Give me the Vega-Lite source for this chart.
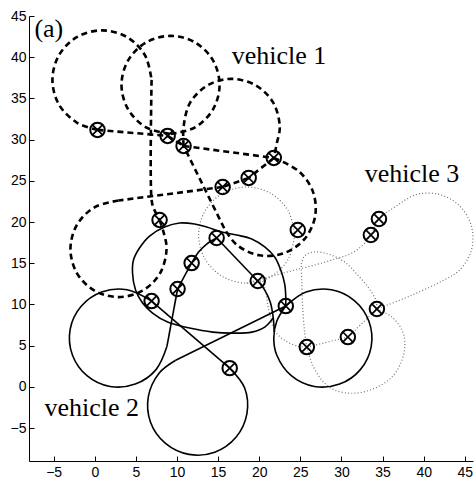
{
  "$schema": "https://vega.github.io/schema/vega-lite/v6.json",
  "width": 444,
  "height": 445,
  "autosize": {"type": "none"},
  "padding": {"left": 29, "top": 16, "right": 2, "bottom": 22},
  "background": "white",
  "config": {
    "view": {"stroke": null},
    "axis": {"grid": false, "domainColor": "black", "tickColor": "black", "labelColor": "black", "labelFont": "Liberation Sans", "labelFontSize": 14, "tickSize": -5, "domainWidth": 1, "tickWidth": 1, "title": null, "labelFlush": false, "labelOverlap": false}
  },
  "datasets": {
    "paths": [
      {"v":1,"s":"1a","i":0,"x":0.33,"y":31.18},{"v":1,"s":"1a","i":1,"x":-2.14,"y":32.04},{"v":1,"s":"1a","i":2,"x":-4.35,"y":34.24},{"v":1,"s":"1a","i":3,"x":-5.15,"y":37.25},{"v":1,"s":"1a","i":4,"x":-4.35,"y":40.25},{"v":1,"s":"1a","i":5,"x":-2.14,"y":42.46},{"v":1,"s":"1a","i":6,"x":0.88,"y":43.26},{"v":1,"s":"1a","i":7,"x":3.89,"y":42.46},{"v":1,"s":"1a","i":8,"x":6.10,"y":40.25},{"v":1,"s":"1a","i":9,"x":6.91,"y":37.25},
      {"v":1,"s":"1b","i":0,"x":6.91,"y":37.25},{"v":1,"s":"1b","i":1,"x":6.91,"y":22.67},{"v":1,"s":"1b","i":2,"x":7.15,"y":21.70},{"v":1,"s":"1b","i":3,"x":7.88,"y":20.25},
      {"v":1,"s":"1c","i":0,"x":0.33,"y":31.18},{"v":1,"s":"1c","i":1,"x":8.86,"y":30.45},
      {"v":1,"s":"1d","i":0,"x":8.86,"y":30.45},{"v":1,"s":"1d","i":1,"x":10.80,"y":29.23},
      {"v":1,"s":"1e","i":0,"x":9.22,"y":30.69},{"v":1,"s":"1e","i":1,"x":12.20,"y":31.49},{"v":1,"s":"1e","i":2,"x":14.38,"y":33.67},{"v":1,"s":"1e","i":3,"x":15.18,"y":36.64},{"v":1,"s":"1e","i":4,"x":14.38,"y":39.62},{"v":1,"s":"1e","i":5,"x":12.20,"y":41.79},{"v":1,"s":"1e","i":6,"x":9.22,"y":42.59},{"v":1,"s":"1e","i":7,"x":6.24,"y":41.79},{"v":1,"s":"1e","i":8,"x":4.06,"y":39.62},{"v":1,"s":"1e","i":9,"x":3.25,"y":36.64},{"v":1,"s":"1e","i":10,"x":4.06,"y":33.67},{"v":1,"s":"1e","i":11,"x":6.24,"y":31.49},{"v":1,"s":"1e","i":12,"x":9.22,"y":30.69},
      {"v":1,"s":"1f","i":0,"x":10.80,"y":29.23},{"v":1,"s":"1f","i":1,"x":10.80,"y":31.54},{"v":1,"s":"1f","i":2,"x":11.58,"y":34.45},{"v":1,"s":"1f","i":3,"x":13.73,"y":36.59},{"v":1,"s":"1f","i":4,"x":16.60,"y":37.37},{"v":1,"s":"1f","i":5,"x":19.57,"y":36.59},{"v":1,"s":"1f","i":6,"x":21.72,"y":34.45},{"v":1,"s":"1f","i":7,"x":22.50,"y":31.54},{"v":1,"s":"1f","i":8,"x":22.14,"y":29.55},{"v":1,"s":"1f","i":9,"x":21.77,"y":27.78},
      {"v":1,"s":"1g","i":0,"x":10.80,"y":29.23},{"v":1,"s":"1g","i":1,"x":21.77,"y":27.78},
      {"v":1,"s":"1h","i":0,"x":21.77,"y":27.78},{"v":1,"s":"1h","i":1,"x":18.72,"y":25.35},
      {"v":1,"s":"1i","i":0,"x":18.72,"y":25.35},{"v":1,"s":"1i","i":1,"x":15.55,"y":24.25},
      {"v":1,"s":"1j","i":0,"x":15.55,"y":24.25},{"v":1,"s":"1j","i":1,"x":2.89,"y":22.61},
      {"v":1,"s":"1k","i":0,"x":2.89,"y":22.61},{"v":1,"s":"1k","i":1,"x":-0.04,"y":21.78},{"v":1,"s":"1k","i":2,"x":-2.18,"y":19.64},{"v":1,"s":"1k","i":3,"x":-2.96,"y":16.72},{"v":1,"s":"1k","i":4,"x":-2.18,"y":13.81},{"v":1,"s":"1k","i":5,"x":-0.04,"y":11.67},{"v":1,"s":"1k","i":6,"x":2.89,"y":10.89},{"v":1,"s":"1k","i":7,"x":5.81,"y":11.67},{"v":1,"s":"1k","i":8,"x":7.95,"y":13.81},{"v":1,"s":"1k","i":9,"x":8.73,"y":16.72},{"v":1,"s":"1k","i":10,"x":8.38,"y":18.72},{"v":1,"s":"1k","i":11,"x":7.88,"y":20.25},
      {"v":1,"s":"1l","i":0,"x":21.77,"y":27.78},{"v":1,"s":"1l","i":1,"x":24.80,"y":26.17},{"v":1,"s":"1l","i":2,"x":26.53,"y":23.69},{"v":1,"s":"1l","i":3,"x":26.80,"y":20.69},{"v":1,"s":"1l","i":4,"x":25.52,"y":17.95},{"v":1,"s":"1l","i":5,"x":23.03,"y":16.23},{"v":1,"s":"1l","i":6,"x":20.02,"y":15.96},{"v":1,"s":"1l","i":7,"x":17.27,"y":17.23},{"v":1,"s":"1l","i":8,"x":15.74,"y":19.24},
      {"v":1,"s":"1m","i":0,"x":15.74,"y":19.24},{"v":1,"s":"1m","i":1,"x":10.80,"y":29.23},

      {"v":2,"s":"2a","i":0,"x":10.07,"y":11.87},{"v":2,"s":"2a","i":1,"x":11.78,"y":15.02},{"v":2,"s":"2a","i":2,"x":12.63,"y":16.36},{"v":2,"s":"2a","i":3,"x":13.61,"y":17.33},{"v":2,"s":"2a","i":4,"x":14.82,"y":18.06},
      {"v":2,"s":"2c","i":0,"x":10.07,"y":11.87},{"v":2,"s":"2c","i":1,"x":8.77,"y":4.88},
      {"v":2,"s":"2d","i":0,"x":8.77,"y":4.88},{"v":2,"s":"2d","i":1,"x":7.45,"y":2.09},{"v":2,"s":"2d","i":2,"x":4.93,"y":0.33},{"v":2,"s":"2d","i":3,"x":1.85,"y":0.05},{"v":2,"s":"2d","i":4,"x":-0.95,"y":1.36},{"v":2,"s":"2d","i":5,"x":-2.72,"y":3.87},{"v":2,"s":"2d","i":6,"x":-3.00,"y":6.95},{"v":2,"s":"2d","i":7,"x":-1.68,"y":9.74},{"v":2,"s":"2d","i":8,"x":0.84,"y":11.50},{"v":2,"s":"2d","i":9,"x":3.92,"y":11.78},{"v":2,"s":"2d","i":10,"x":6.91,"y":10.41},
      {"v":2,"s":"2e","i":0,"x":6.91,"y":10.41},{"v":2,"s":"2e","i":1,"x":16.41,"y":2.27},
      {"v":2,"s":"2f","i":0,"x":16.41,"y":2.27},{"v":2,"s":"2f","i":1,"x":18.23,"y":-0.15},{"v":2,"s":"2f","i":2,"x":18.50,"y":-3.28},{"v":2,"s":"2f","i":3,"x":17.17,"y":-6.12},{"v":2,"s":"2f","i":4,"x":14.59,"y":-7.93},{"v":2,"s":"2f","i":5,"x":11.45,"y":-8.20},{"v":2,"s":"2f","i":6,"x":8.60,"y":-6.87},{"v":2,"s":"2f","i":7,"x":6.78,"y":-4.30},{"v":2,"s":"2f","i":8,"x":6.52,"y":-1.17},{"v":2,"s":"2f","i":9,"x":7.84,"y":1.68},{"v":2,"s":"2f","i":10,"x":9.84,"y":3.23},
      {"v":2,"s":"2g","i":0,"x":9.84,"y":3.23},{"v":2,"s":"2g","i":1,"x":23.23,"y":9.80},
      {"v":2,"s":"2h","i":0,"x":23.23,"y":9.80},{"v":2,"s":"2h","i":1,"x":25.69,"y":11.50},{"v":2,"s":"2h","i":2,"x":28.77,"y":11.78},{"v":2,"s":"2h","i":3,"x":31.57,"y":10.47},{"v":2,"s":"2h","i":4,"x":33.34,"y":7.95},{"v":2,"s":"2h","i":5,"x":33.62,"y":4.88},{"v":2,"s":"2h","i":6,"x":32.30,"y":2.09},{"v":2,"s":"2h","i":7,"x":29.78,"y":0.33},{"v":2,"s":"2h","i":8,"x":26.70,"y":0.05},{"v":2,"s":"2h","i":9,"x":23.90,"y":1.36},{"v":2,"s":"2h","i":10,"x":22.13,"y":3.87},{"v":2,"s":"2h","i":11,"x":21.77,"y":5.91},{"v":2,"s":"2h","i":12,"x":22.13,"y":7.95},{"v":2,"s":"2h","i":13,"x":23.23,"y":9.80},
      {"v":2,"s":"2i","i":0,"x":21.83,"y":6.65},{"v":2,"s":"2i","i":1,"x":21.71,"y":8.34},{"v":2,"s":"2i","i":2,"x":21.34,"y":10.29},{"v":2,"s":"2i","i":3,"x":20.67,"y":11.74},{"v":2,"s":"2i","i":4,"x":19.82,"y":12.84},
      {"v":2,"s":"2j","i":0,"x":19.82,"y":12.84},{"v":2,"s":"2j","i":1,"x":14.82,"y":18.06},
      {"v":2,"s":"2k","i":0,"x":21.71,"y":8.34},{"v":2,"s":"2k","i":1,"x":20.67,"y":7.25},{"v":2,"s":"2k","i":2,"x":19.09,"y":6.64},{"v":2,"s":"2k","i":3,"x":16.77,"y":6.52},{"v":2,"s":"2k","i":4,"x":14.34,"y":6.64},{"v":2,"s":"2k","i":5,"x":11.53,"y":7.13},{"v":2,"s":"2k","i":6,"x":8.86,"y":7.86},{"v":2,"s":"2k","i":7,"x":7.03,"y":8.95},{"v":2,"s":"2k","i":8,"x":5.81,"y":10.17},{"v":2,"s":"2k","i":9,"x":4.96,"y":11.74},{"v":2,"s":"2k","i":10,"x":4.59,"y":13.81},{"v":2,"s":"2k","i":11,"x":4.71,"y":15.39},{"v":2,"s":"2k","i":12,"x":5.44,"y":16.84},{"v":2,"s":"2k","i":13,"x":6.66,"y":18.30},{"v":2,"s":"2k","i":14,"x":8.49,"y":19.39},{"v":2,"s":"2k","i":15,"x":10.32,"y":19.88},{"v":2,"s":"2k","i":16,"x":12.14,"y":19.76},{"v":2,"s":"2k","i":17,"x":13.61,"y":19.39},{"v":2,"s":"2k","i":18,"x":15.43,"y":18.79},{"v":2,"s":"2k","i":19,"x":17.26,"y":18.42},{"v":2,"s":"2k","i":20,"x":19.09,"y":17.94},{"v":2,"s":"2k","i":21,"x":20.67,"y":16.97},{"v":2,"s":"2k","i":22,"x":21.88,"y":15.75},{"v":2,"s":"2k","i":23,"x":22.62,"y":14.17},{"v":2,"s":"2k","i":24,"x":23.10,"y":12.47},{"v":2,"s":"2k","i":25,"x":23.23,"y":10.89},{"v":2,"s":"2k","i":26,"x":23.23,"y":9.80},

      {"v":3,"s":"3a","i":0,"x":24.32,"y":18.42},{"v":3,"s":"3a","i":1,"x":23.54,"y":15.51},{"v":3,"s":"3a","i":2,"x":21.40,"y":13.37},{"v":3,"s":"3a","i":3,"x":18.48,"y":12.59},{"v":3,"s":"3a","i":4,"x":15.56,"y":13.37},{"v":3,"s":"3a","i":5,"x":13.41,"y":15.51},{"v":3,"s":"3a","i":6,"x":12.63,"y":18.42},{"v":3,"s":"3a","i":7,"x":13.41,"y":21.34},{"v":3,"s":"3a","i":8,"x":15.56,"y":23.48},{"v":3,"s":"3a","i":9,"x":18.48,"y":24.25},{"v":3,"s":"3a","i":10,"x":21.40,"y":23.48},{"v":3,"s":"3a","i":11,"x":23.54,"y":21.34},{"v":3,"s":"3a","i":12,"x":24.32,"y":18.42},
      {"v":3,"s":"3b","i":0,"x":18.48,"y":12.59},{"v":3,"s":"3b","i":1,"x":20.67,"y":13.20},{"v":3,"s":"3b","i":2,"x":22.50,"y":13.69},{"v":3,"s":"3b","i":3,"x":24.32,"y":14.17},{"v":3,"s":"3b","i":4,"x":26.76,"y":14.78},{"v":3,"s":"3b","i":5,"x":29.20,"y":15.51},{"v":3,"s":"3b","i":6,"x":31.03,"y":16.12},{"v":3,"s":"3b","i":7,"x":32.49,"y":17.09},{"v":3,"s":"3b","i":8,"x":33.58,"y":18.42},{"v":3,"s":"3b","i":9,"x":34.56,"y":20.37},{"v":3,"s":"3b","i":10,"x":36.65,"y":21.92},{"v":3,"s":"3b","i":11,"x":39.11,"y":23.34},{"v":3,"s":"3b","i":12,"x":41.94,"y":23.34},{"v":3,"s":"3b","i":13,"x":44.40,"y":21.92},{"v":3,"s":"3b","i":14,"x":45.82,"y":19.47},{"v":3,"s":"3b","i":15,"x":45.82,"y":16.65},{"v":3,"s":"3b","i":16,"x":44.40,"y":14.20},{"v":3,"s":"3b","i":17,"x":42.48,"y":12.96},{"v":3,"s":"3b","i":18,"x":38.33,"y":11.02},{"v":3,"s":"3b","i":19,"x":34.31,"y":9.44},
      {"v":3,"s":"3c","i":0,"x":34.31,"y":9.44},{"v":3,"s":"3c","i":1,"x":36.14,"y":8.47},{"v":3,"s":"3c","i":2,"x":37.36,"y":6.89},{"v":3,"s":"3c","i":3,"x":37.72,"y":5.31},{"v":3,"s":"3c","i":4,"x":37.36,"y":3.24},{"v":3,"s":"3c","i":5,"x":36.14,"y":1.18},{"v":3,"s":"3c","i":6,"x":34.07,"y":-0.16},{"v":3,"s":"3c","i":7,"x":31.63,"y":-0.77},{"v":3,"s":"3c","i":8,"x":29.20,"y":-0.40},{"v":3,"s":"3c","i":9,"x":27.61,"y":0.81},{"v":3,"s":"3c","i":10,"x":26.40,"y":2.88},{"v":3,"s":"3c","i":11,"x":25.79,"y":4.82},
      {"v":3,"s":"3d","i":0,"x":25.79,"y":4.82},{"v":3,"s":"3d","i":1,"x":30.78,"y":6.04},
      {"v":3,"s":"3e","i":0,"x":30.78,"y":6.04},{"v":3,"s":"3e","i":1,"x":34.31,"y":9.44},
      {"v":3,"s":"3f","i":0,"x":25.79,"y":4.82},{"v":3,"s":"3f","i":1,"x":25.53,"y":6.52},{"v":3,"s":"3f","i":2,"x":25.29,"y":9.68},{"v":3,"s":"3f","i":3,"x":25.18,"y":12.96},{"v":3,"s":"3f","i":4,"x":25.18,"y":15.15},{"v":3,"s":"3f","i":5,"x":25.66,"y":16.00},{"v":3,"s":"3f","i":6,"x":26.64,"y":16.36},{"v":3,"s":"3f","i":7,"x":27.98,"y":16.24},{"v":3,"s":"3f","i":8,"x":29.32,"y":15.75},{"v":3,"s":"3f","i":9,"x":30.54,"y":15.03},{"v":3,"s":"3f","i":10,"x":31.76,"y":13.81},{"v":3,"s":"3f","i":11,"x":33.22,"y":12.11},{"v":3,"s":"3f","i":12,"x":34.19,"y":10.53},{"v":3,"s":"3f","i":13,"x":34.31,"y":9.44},
      {"v":3,"s":"3g","i":0,"x":20.43,"y":12.84},{"v":3,"s":"3g","i":1,"x":20.80,"y":11.50},{"v":3,"s":"3g","i":2,"x":21.04,"y":9.92},{"v":3,"s":"3g","i":3,"x":21.41,"y":8.34},{"v":3,"s":"3g","i":4,"x":22.01,"y":6.64},{"v":3,"s":"3g","i":5,"x":23.23,"y":5.55},{"v":3,"s":"3g","i":6,"x":24.69,"y":4.94},{"v":3,"s":"3g","i":7,"x":25.79,"y":4.82}
    ],
    "targets": [
      {"x":0.33,"y":31.18},{"x":8.86,"y":30.45},{"x":10.80,"y":29.23},{"x":15.55,"y":24.25},{"x":7.88,"y":20.25},{"x":21.77,"y":27.78},{"x":18.72,"y":25.35},
      {"x":6.91,"y":10.41},{"x":10.07,"y":11.87},{"x":11.78,"y":15.02},{"x":14.82,"y":18.06},{"x":19.82,"y":12.84},{"x":23.23,"y":9.80},{"x":16.41,"y":2.27},
      {"x":24.69,"y":19.03},{"x":25.79,"y":4.82},{"x":30.78,"y":6.04},{"x":34.31,"y":9.44},{"x":34.56,"y":20.37},{"x":33.58,"y":18.42}
    ],
    "labels": [
      {"x":-7.34,"y":42.5,"t":"(a)"},{"x":16.65,"y":39.19,"t":"vehicle 1"},{"x":32.82,"y":24.86,"t":"vehicle 3"},{"x":-6.13,"y":-3.56,"t":"vehicle 2"}
    ]
  },
  "encoding": {
    "x": {"field": "x", "type": "quantitative", "scale": {"domain": [-8, 46], "nice": false, "zero": false}, "axis": {"values": [-5,0,5,10,15,20,25,30,35,40,45], "labelPadding": 9}},
    "y": {"field": "y", "type": "quantitative", "scale": {"domain": [-9, 45], "nice": false, "zero": false}, "axis": {"values": [-5,0,5,10,15,20,25,30,35,40,45], "labelPadding": 8}}
  },
  "layer": [
    {
      "data": {"name": "paths"},
      "transform": [{"filter": "datum.v == 3"}],
      "mark": {"type": "line", "interpolate": "catmull-rom", "stroke": "#707070", "strokeWidth": 1.2, "strokeDash": [1, 2.2]},
      "encoding": {"detail": {"field": "s"}, "order": {"field": "i", "type": "quantitative"}}
    },
    {
      "data": {"name": "paths"},
      "transform": [{"filter": "datum.v == 2"}],
      "mark": {"type": "line", "interpolate": "catmull-rom", "stroke": "black", "strokeWidth": 1.6},
      "encoding": {"detail": {"field": "s"}, "order": {"field": "i", "type": "quantitative"}}
    },
    {
      "data": {"name": "paths"},
      "transform": [{"filter": "datum.v == 1"}],
      "mark": {"type": "line", "interpolate": "catmull-rom", "stroke": "black", "strokeWidth": 2.6, "strokeDash": [6, 4]},
      "encoding": {"detail": {"field": "s"}, "order": {"field": "i", "type": "quantitative"}}
    },
    {
      "data": {"name": "targets"},
      "mark": {"type": "point", "shape": "circle", "size": 210, "filled": false, "stroke": "black", "strokeWidth": 2, "opacity": 1}
    },
    {
      "data": {"name": "targets"},
      "mark": {"type": "point", "shape": "M-0.7,-0.7L0.7,0.7M-0.7,0.7L0.7,-0.7", "size": 210, "filled": false, "stroke": "black", "strokeWidth": 1.7, "opacity": 1}
    },
    {
      "data": {"name": "labels"},
      "mark": {"type": "text", "align": "left", "baseline": "alphabetic", "font": "Liberation Serif", "fontSize": 26, "color": "black"},
      "encoding": {"text": {"field": "t"}}
    }
  ]
}
